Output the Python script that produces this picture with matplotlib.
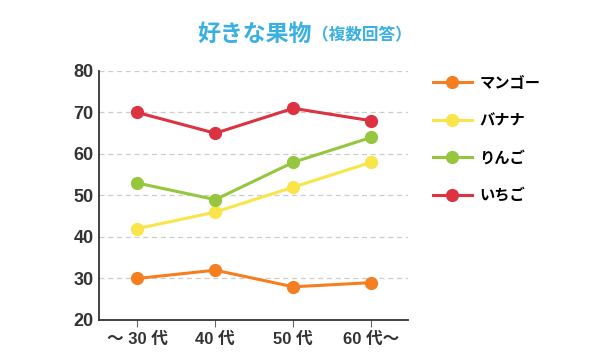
import matplotlib
matplotlib.use("Agg")
import matplotlib.pyplot as plt

plt.rcParams['font.family'] = ['Noto Sans CJK JP', 'DejaVu Sans']

categories = ["～ 30 代", "40 代", "50 代", "60 代～"]
series_names = ["マンゴー", "バナナ", "りんご", "いちご"]
mango = [30, 32, 28, 29]
banana = [42, 46, 52, 58]
apple = [53, 49, 58, 64]
strawberry = [70, 65, 71, 68]
colors = ["#f57f20", "#f9e44a", "#95c63d", "#dc3242"]
yticks = [20, 30, 40, 50, 60, 70, 80]

tick_font = ['Liberation Sans', 'Noto Sans CJK JP']

fig = plt.figure(figsize=(6, 3.63), dpi=100)
ax = fig.add_axes([0.165, 0.1185, 0.515, 0.686])

x = list(range(len(categories)))
handles = []
for vals, c, name in zip([mango, banana, apple, strawberry], colors, series_names):
    h, = ax.plot(x, vals, color=c, lw=2.2, marker='o', ms=8.5, label=name, zorder=3)
    handles.append(h)

ax.set_xlim(-0.49, 3.47)
ax.set_ylim(20, 80)
ax.set_yticks(yticks)
ax.set_yticklabels([str(v) for v in yticks], fontsize=13, fontweight='bold',
                   color='#333333', family=tick_font)
ax.set_xticks(x)
ax.set_xticklabels(categories, fontsize=12, fontweight='bold', color='#333333', family=tick_font)
ax.tick_params(axis='y', length=0, pad=4)
ax.tick_params(axis='x', length=5, color='#666666', pad=3, direction='out')
for yv in yticks[1:]:
    ax.axhline(yv, color='#cccccc', lw=0.9, ls=(0, (4, 3)), zorder=1)
for s in ['top', 'right']:
    ax.spines[s].set_visible(False)
for s in ['left', 'bottom']:
    ax.spines[s].set_color('#333333')
    ax.spines[s].set_linewidth(1.3)

fig.text(0.52, 0.905, "好きな果物", fontsize=16.5, fontweight='bold', color='#3ab0e2',
         ha='right', va='center')
fig.text(0.52, 0.903, "（複数回答）", fontsize=12, fontweight='bold', color='#3ab0e2',
         ha='left', va='center')

leg = fig.legend(handles=handles, loc='upper left', bbox_to_anchor=(0.698, 0.832),
                 frameon=False, labelspacing=1.4, handlelength=2.6, handletextpad=0.45,
                 prop={'size': 11, 'weight': 'bold'})

fig.savefig("out.png", dpi=100, facecolor='white')
